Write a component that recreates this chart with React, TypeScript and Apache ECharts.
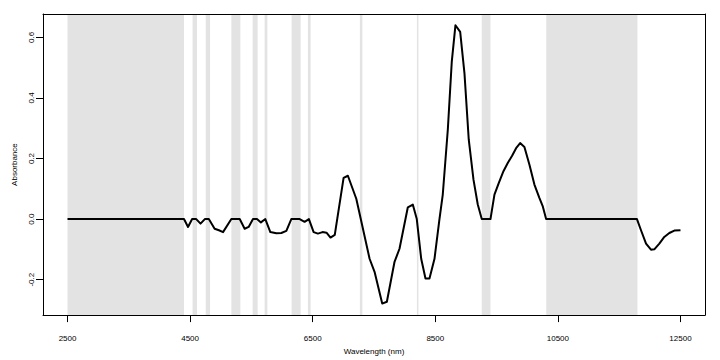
import React, { useEffect, useRef } from "react";
import * as echarts from "echarts";

const wavelengths = [
  2500, 4400, 4466, 4533, 4600, 4670, 4740, 4805, 4900, 4970, 5037, 5173, 5309,
  5390, 5455, 5526, 5591, 5655, 5727, 5809, 5907, 5988, 6070, 6151, 6287, 6368,
  6438, 6515, 6585, 6660, 6725, 6790, 6860, 7004, 7074, 7211, 7428, 7509, 7634,
  7710, 7835, 7916, 8052, 8133, 8198, 8270, 8340, 8405, 8487, 8568, 8622, 8704,
  8769, 8829, 8906, 8976, 9046, 9123, 9193, 9258, 9400, 9465, 9535, 9612, 9682,
  9753, 9818, 9884, 9954, 10035, 10117, 10198, 10252, 10308, 11790, 11856,
  11938, 12019, 12073, 12155, 12236, 12318, 12400, 12500,
];
const absorbance = [
  0, 0, -0.026, 0, 0, -0.015, 0, 0, -0.032, -0.037, -0.043, 0, 0,
  -0.032, -0.026, 0, 0, -0.011, 0, -0.043, -0.047, -0.046, -0.039, 0, 0, -0.009,
  0, -0.043, -0.048, -0.043, -0.045, -0.061, -0.052, 0.136, 0.143, 0.067, -0.131, -0.174, -0.279,
  -0.273, -0.141, -0.098, 0.039, 0.048, 0.0, -0.131, -0.196, -0.196, -0.131, 0.0, 0.081, 0.295,
  0.52, 0.64, 0.618, 0.481, 0.262, 0.13, 0.048, 0, 0, 0.081, 0.119, 0.158, 0.185,
  0.209, 0.234, 0.251, 0.238, 0.18, 0.114, 0.07, 0.043, 0, 0, -0.037,
  -0.081, -0.101, -0.1, -0.081, -0.059, -0.046, -0.038, -0.037,
];

const bandStart = [2500, 4540, 4755, 5173, 5520, 5716, 6156, 6422, 7270, 8200, 9258, 10310];
const bandEnd = [4400, 4612, 4825, 5320, 5602, 5760, 6303, 6466, 7310, 8225, 9400, 11798];

const xTicks = [2500, 4500, 6500, 8500, 10500, 12500];
const yTicks = [-0.2, 0, 0.2, 0.4, 0.6];

const X_MIN = 2100;
const X_MAX = 12900;
const Y_MIN = -0.317;
const Y_MAX = 0.677;

const FONT = "'Liberation Sans', Arial, Helvetica, sans-serif";

export default function App() {
  const ref = useRef<HTMLDivElement>(null);

  useEffect(() => {
    if (!ref.current) return;
    const chart = echarts.init(ref.current, undefined, { renderer: "svg" });
    const lineData = wavelengths.map((w, i) => [w, absorbance[i]]);
    const bands = bandStart.map((s, i) => [{ xAxis: s }, { xAxis: bandEnd[i] }]);

    chart.setOption({
      animation: false,
      backgroundColor: "#ffffff",
      textStyle: { fontFamily: FONT },
      grid: { left: 43, right: 15, top: 14, bottom: 44, containLabel: false },
      xAxis: [
        {
          type: "value",
          min: X_MIN,
          max: X_MAX,
          z: 10,
          name: "Wavelength (nm)",
          nameLocation: "middle",
          nameGap: 29,
          nameTextStyle: { color: "#000", fontSize: 8, fontFamily: FONT },
          axisLine: { show: true, onZero: false, lineStyle: { color: "#000", width: 1 } },
          axisTick: { show: true, length: 7, customValues: xTicks, lineStyle: { color: "#000" } },
          axisLabel: {
            customValues: xTicks,
            color: "#000",
            fontSize: 8,
            fontFamily: FONT,
            margin: 19,
            formatter: (v: number) => String(v),
          },
          splitLine: { show: false },
        },
        {
          type: "value",
          position: "top",
          min: X_MIN,
          max: X_MAX,
          z: 10,
          axisLine: { show: true, onZero: false, lineStyle: { color: "#000", width: 1 } },
          axisTick: { show: false },
          axisLabel: { show: false },
          splitLine: { show: false },
        },
      ],
      yAxis: [
        {
          type: "value",
          min: Y_MIN,
          max: Y_MAX,
          z: 10,
          name: "Absorbance",
          nameLocation: "middle",
          nameGap: 25,
          nameRotate: 90,
          nameTextStyle: { color: "#000", fontSize: 8, fontFamily: FONT },
          axisLine: { show: true, onZero: false, lineStyle: { color: "#000", width: 1 } },
          axisTick: { show: true, length: 7, customValues: yTicks, lineStyle: { color: "#000" } },
          axisLabel: {
            customValues: yTicks,
            color: "#000",
            fontSize: 8,
            fontFamily: FONT,
            rotate: 90,
            margin: 8,
            formatter: (v: number) => v.toFixed(1),
          },
          splitLine: { show: false },
        },
        {
          type: "value",
          position: "right",
          min: Y_MIN,
          max: Y_MAX,
          z: 10,
          axisLine: { show: true, onZero: false, lineStyle: { color: "#000", width: 1 } },
          axisTick: { show: false },
          axisLabel: { show: false },
          splitLine: { show: false },
        },
      ],
      series: [
        {
          type: "line",
          data: [],
          z: 1,
          silent: true,
          markArea: {
            silent: true,
            itemStyle: { color: "#e3e3e3", opacity: 1 },
            label: { show: false },
            data: bands,
          },
        },
        {
          type: "line",
          data: lineData,
          z: 5,
          showSymbol: false,
          symbol: "none",
          lineStyle: { color: "#000", width: 2, join: "round" },
          silent: true,
        },
      ],
    });
    return () => chart.dispose();
  }, []);

  return (
    <div
      ref={ref}
      style={{ position: "absolute", left: 0, top: 0, width: 720, height: 360 }}
    />
  );
}
